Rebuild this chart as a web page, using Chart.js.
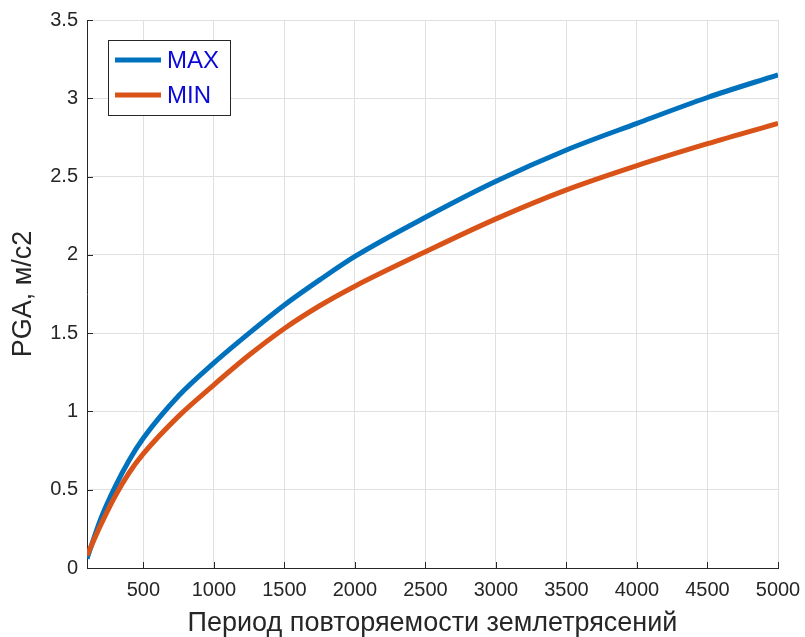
<!DOCTYPE html>
<html>
<head>
<meta charset="utf-8">
<script src="https://cdn.jsdelivr.net/npm/chart.js@4.4.0/dist/chart.umd.min.js"></script>
<style>
  html, body { margin: 0; padding: 0; background: #fff; }
  #wrap { width: 805px; height: 637px; }
</style>
</head>
<body>
<div id="wrap"><canvas id="myChart" width="805" height="637"></canvas></div>
<script>
// Период повторяемости (годы) и PGA, м/с2
var periods = [100, 200, 300, 400, 500, 750, 1000, 1250, 1500, 1750, 2000, 2500, 3000, 3500, 4000, 4500, 5000];
var pgaMax = [0.06, 0.32, 0.52, 0.69, 0.83, 1.10, 1.31, 1.50, 1.68, 1.84, 1.99, 2.24, 2.47, 2.67, 2.84, 3.005, 3.15];
var pgaMin = [0.08, 0.28, 0.46, 0.61, 0.73, 0.97, 1.17, 1.36, 1.53, 1.675, 1.80, 2.02, 2.23, 2.415, 2.57, 2.71, 2.84];
var xTicks = [500, 1000, 1500, 2000, 2500, 3000, 3500, 4000, 4500, 5000];

var textColor = "#262626";
var fontName = '"Liberation Sans", Arial, Helvetica, sans-serif';

function toPoints(ys) {
  var pts = [];
  for (var i = 0; i < periods.length; i++) {
    pts.push({ x: periods[i], y: ys[i] });
  }
  return pts;
}

// легенда в рамке внутри области графика (как в MATLAB)
var boxLegend = {
  id: "boxLegend",
  afterDraw: function (chart) {
    var ctx = chart.ctx;
    var a = chart.chartArea;
    var x0 = a.left + 21, y0 = a.top + 20, w = 122, h = 75;
    ctx.save();
    ctx.fillStyle = "#fff";
    ctx.fillRect(x0, y0, w, h);
    ctx.strokeStyle = textColor;
    ctx.lineWidth = 1;
    ctx.strokeRect(x0 + 0.5, y0 + 0.5, w, h);
    chart.data.datasets.forEach(function (ds, i) {
      var y = y0 + 20 + i * 35;
      ctx.strokeStyle = ds.borderColor;
      ctx.lineWidth = 5;
      ctx.beginPath();
      ctx.moveTo(x0 + 7, y);
      ctx.lineTo(x0 + 53, y);
      ctx.stroke();
      ctx.fillStyle = "#0a0ad8";
      ctx.font = "24px " + fontName;
      ctx.textBaseline = "middle";
      ctx.fillText(ds.label, x0 + 59, y + 1);
    });
    ctx.restore();
  }
};

// короткие засечки внутрь, как у осей MATLAB
var innerTicks = {
  id: "innerTicks",
  beforeDatasetsDraw: function (chart) {
    var ctx = chart.ctx;
    var xs = chart.scales.x, ys = chart.scales.y;
    ctx.save();
    ctx.strokeStyle = textColor;
    ctx.lineWidth = 1;
    ctx.beginPath();
    xs.ticks.forEach(function (t) {
      var px = Math.round(xs.getPixelForValue(t.value)) + 0.5;
      ctx.moveTo(px, ys.bottom);
      ctx.lineTo(px, ys.bottom - 6);
    });
    ys.ticks.forEach(function (t) {
      var py = Math.round(ys.getPixelForValue(t.value)) + 0.5;
      ctx.moveTo(xs.left, py);
      ctx.lineTo(xs.left + 6, py);
    });
    ctx.stroke();
    ctx.restore();
  }
};

var ctx = document.getElementById("myChart");
var data = {
  datasets: [
    {
      label: "MAX",
      data: toPoints(pgaMax),
      borderColor: "#0072BD",
      borderWidth: 5,
      order: 1
    },
    {
      label: "MIN",
      data: toPoints(pgaMin),
      borderColor: "#D95319",
      borderWidth: 5,
      order: 0
    }
  ]
};

var config = {
  type: "line",
  data: data,
  plugins: [innerTicks, boxLegend],
  options: {
    responsive: false,
    animation: false,
    layout: { padding: { top: 20, right: 27, left: 0, bottom: 0 } },
    elements: {
      point: { radius: 0 },
      line: { tension: 0.4, cubicInterpolationMode: "monotone", fill: false }
    },
    plugins: {
      legend: { display: false },
      tooltip: { enabled: false }
    },
    scales: {
      x: {
        type: "linear",
        min: 100,
        max: 5000,
        afterBuildTicks: function (scale) {
          scale.ticks = xTicks.map(function (v) { return { value: v }; });
        },
        afterFit: function (scale) {
          scale.height = 69;
          scale.paddingRight = 0;
          scale.paddingLeft = 0;
        },
        grid: { color: "#e0e0e0", lineWidth: 1, drawTicks: false },
        border: { color: textColor, width: 1 },
        ticks: {
          color: textColor,
          font: { family: fontName, size: 20 },
          padding: 10,
          maxRotation: 0,
          autoSkip: false,
          callback: function (v) { return String(v); }
        },
        title: {
          display: true,
          text: "Период повторяемости землетрясений",
          color: textColor,
          font: { family: fontName, size: 27, lineHeight: 1 },
          padding: 0
        }
      },
      y: {
        min: 0,
        max: 3.5,
        afterFit: function (scale) {
          scale.width = 87;
          scale.paddingTop = 0;
          scale.paddingBottom = 0;
        },
        grid: { color: "#e0e0e0", lineWidth: 1, drawTicks: false },
        border: { color: textColor, width: 1 },
        ticks: {
          stepSize: 0.5,
          color: textColor,
          font: { family: fontName, size: 20 },
          padding: 9,
          callback: function (v) { return String(v); }
        },
        title: {
          display: true,
          text: "PGA, м/с2",
          color: textColor,
          font: { family: fontName, size: 27, lineHeight: 1 },
          padding: 10
        }
      }
    }
  }
};

var myChart = new Chart(ctx, config);
</script>
</body>
</html>
